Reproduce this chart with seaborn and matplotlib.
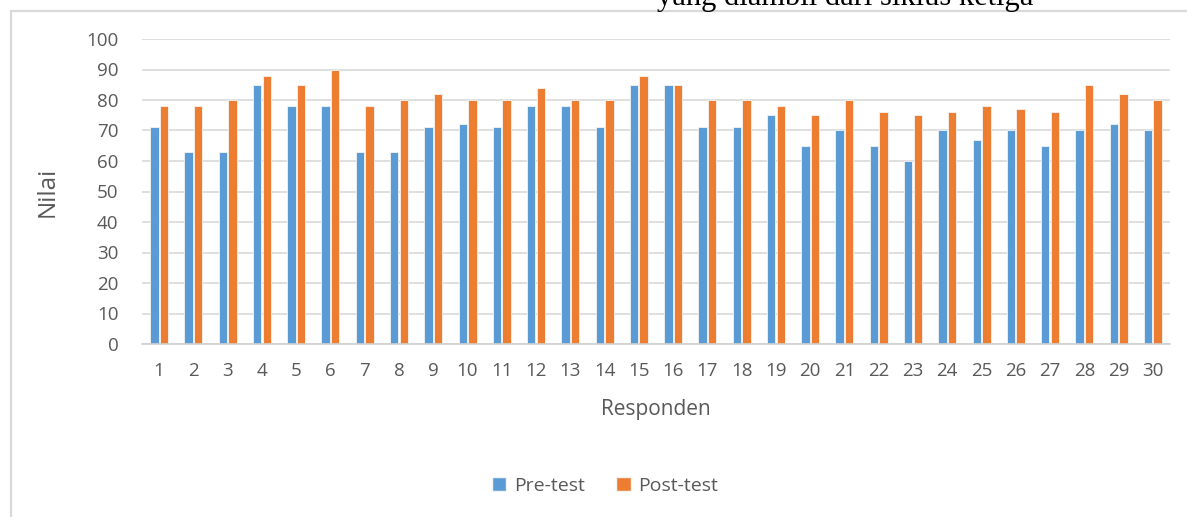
import matplotlib
matplotlib.use("Agg")
import matplotlib.pyplot as plt
import matplotlib.patches as mpatches
import seaborn as sns
import pandas as pd

respondents = [str(i) for i in range(1, 31)]
pre_test = [71, 63, 63, 85, 78, 78, 63, 63, 71, 72,
            71, 78, 78, 71, 85, 85, 71, 71, 75, 65,
            70, 65, 60, 70, 67, 70, 65, 70, 72, 70]
post_test = [78, 78, 80, 88, 85, 90, 78, 80, 82, 80,
             80, 84, 80, 80, 88, 85, 80, 80, 78, 75,
             80, 76, 75, 76, 78, 77, 76, 85, 82, 80]
series_names = ["Pre-test", "Post-test"]
y_ticks = [0, 10, 20, 30, 40, 50, 60, 70, 80, 90, 100]

df = pd.DataFrame({
    "Responden": respondents * 2,
    "Nilai": pre_test + post_test,
    "Seri": [series_names[0]] * 30 + [series_names[1]] * 30,
})

sns.set_theme(style="white")
plt.rcParams["font.family"] = ["Open Sans", "DejaVu Sans"]

TXT = "#595959"
colors = {"Pre-test": "#5B9BD5", "Post-test": "#ED7D31"}

fig = plt.figure(figsize=(11.87, 5.17), dpi=100)
ax = fig.add_axes([142 / 1187, 1 - 344 / 517, (1170 - 142) / 1187, (344 - 39) / 517])

sns.barplot(data=df, x="Responden", y="Nilai", hue="Seri", order=respondents,
            hue_order=series_names, palette=colors, saturation=1, width=0.56, gap=0.12,
            edgecolor="#f4f4f4", linewidth=0.6, ax=ax, legend=False)

ax.set_ylim(0, 100)
ax.set_xlim(-0.5, 29.5)
ax.set_yticks(y_ticks)
ax.yaxis.grid(True, color="#d9d9d9", linewidth=1.2)
ax.set_axisbelow(True)
for s in ["top", "right", "left"]:
    ax.spines[s].set_visible(False)
ax.spines["bottom"].set_color("#d0d0d0")
ax.spines["bottom"].set_linewidth(1.2)
ax.tick_params(axis="both", length=0, labelsize=13.5, colors=TXT)
ax.tick_params(axis="y", pad=17)
ax.tick_params(axis="x", pad=13)
ax.set_xlabel("Responden", fontsize=15, color=TXT, labelpad=14)
ax.set_ylabel("Nilai", fontsize=17.5, color=TXT, labelpad=19)

handles = [mpatches.Patch(facecolor=colors[n], edgecolor="#f4f4f4", label=n) for n in series_names]
leg = fig.legend(handles=handles, loc="center", bbox_to_anchor=(605 / 1187, 1 - 486 / 517),
                 ncol=2, frameon=False, fontsize=14, handlelength=0.75, handleheight=0.75,
                 handletextpad=0.4, columnspacing=1.6)
for t in leg.get_texts():
    t.set_color(TXT)

# chart frame (partially outside the image)
fig.add_artist(mpatches.Rectangle((10.5 / 1187, -0.1), 1.2, 1.1 - 10.5 / 517,
                                  transform=fig.transFigure, fill=False,
                                  edgecolor="#d9d9d9", linewidth=1.6, clip_on=False))

# heading text above the chart, cut off at the top edge as in the source
fig.text(845 / 1187, 1 - 5 / 517, "yang diambil dari siklus ketiga",
         fontsize=22, family="Liberation Serif", color="black",
         ha="center", va="baseline")

fig.savefig("out.png", dpi=100, facecolor="white")
